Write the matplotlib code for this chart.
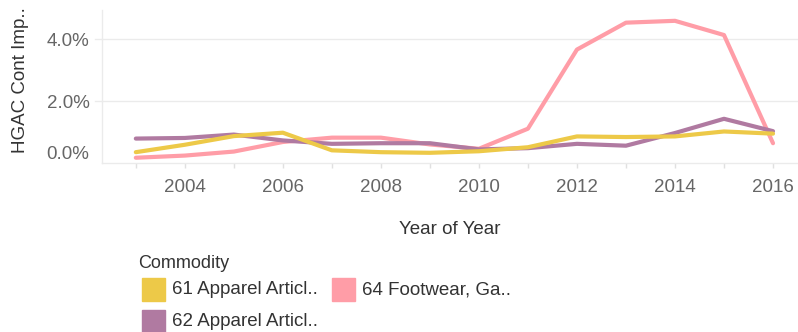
import matplotlib
matplotlib.use('Agg')
import matplotlib.pyplot as plt
from matplotlib.patches import Rectangle

plt.rcParams['font.family'] = ['Liberation Sans', 'DejaVu Sans']

years = list(range(2003, 2017))
commodities = ['61 Apparel Articl..', '62 Apparel Articl..', '64 Footwear, Ga..']
colors = ['#EDC948', '#B07AA1', '#FF9DA7']

# share of HGAC container imports, in percent
apparel_61 = [0.35, 0.59, 0.87, 0.98, 0.41, 0.35, 0.33, 0.38, 0.51, 0.86, 0.84, 0.86, 1.02, 0.95]
apparel_62 = [0.79, 0.81, 0.92, 0.73, 0.62, 0.64, 0.64, 0.44, 0.48, 0.62, 0.56, 0.97, 1.43, 1.03]
footwear_64 = [0.17, 0.24, 0.37, 0.68, 0.82, 0.82, 0.60, 0.46, 1.11, 3.67, 4.54, 4.60, 4.14, 0.64]
series = [apparel_61, apparel_62, footwear_64]

W, H = 798, 332
fig = plt.figure(figsize=(W / 100, H / 100), dpi=100)
ax = fig.add_axes([102 / W, (H - 163) / H, 696 / W, 153 / H])

grid_c = '#ebebeb'
tick_c = '#666666'
text_c = '#333333'

# pink underneath, yellow on top
for i in [2, 1, 0]:
    ax.plot(years, series[i], color=colors[i], lw=3,
            solid_capstyle='round', solid_joinstyle='round', zorder=3 + (2 - i))

ax.set_xlim(2002.31, 2016.51)
ax.set_ylim(0, 4.95)

for v in [2, 4]:
    ax.axhline(v, xmin=-0.01, color=grid_c, lw=1, clip_on=False, zorder=1)

for s in ['top', 'right']:
    ax.spines[s].set_visible(False)
ax.spines['left'].set_color(grid_c)
ax.spines['bottom'].set_color(grid_c)
ax.spines['left'].set_linewidth(1)
ax.spines['bottom'].set_linewidth(1)

ax.set_yticks([0, 2, 4])
ax.set_yticklabels(['0.0%', '2.0%', '4.0%'])
ax.tick_params(axis='y', length=0, pad=9, labelsize=13.5, labelcolor=tick_c)
ax.get_yticklabels()[0].set_va('bottom')

ax.set_xticks(years, minor=True)
ax.set_xticks(list(range(2004, 2017, 2)))
ax.tick_params(axis='x', which='both', length=3.5, width=1, color='#e0e0e0')
ax.tick_params(axis='x', which='major', pad=8, labelsize=13.5, labelcolor=tick_c)

ax.set_xlabel('Year of Year', fontsize=13.5, color=text_c, labelpad=18)
fig.text(21 / W, 1 - 80 / H, 'HGAC Cont Imp..', rotation=90, fontsize=13.5,
         color=text_c, ha='center', va='center')

# legend, laid out in two columns
fig.text(138 / W, 1 - 263 / H, 'Commodity', fontsize=13, color=text_c,
         ha='left', va='center')
slots = [(142, 278), (142, 310), (332, 278)]
for (px, py), label, c in zip(slots, commodities, colors):
    fig.patches.append(Rectangle((px / W, 1 - (py + 23) / H), 23 / W, 23 / H,
                                 transform=fig.transFigure, color=c))
    fig.text((px + 30) / W, 1 - (py + 12) / H, label, fontsize=13.5,
             color=text_c, ha='left', va='center')

fig.savefig('out.png', dpi=100)
